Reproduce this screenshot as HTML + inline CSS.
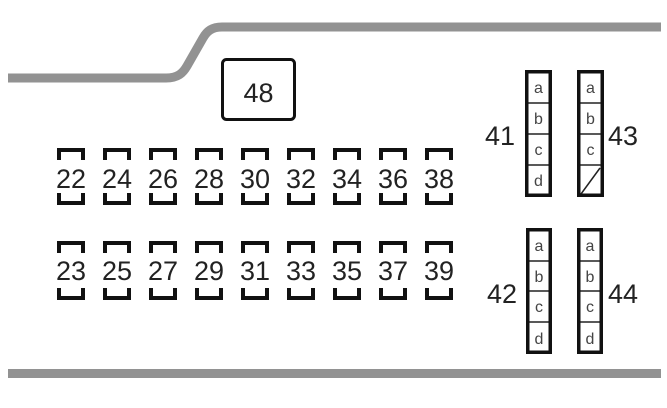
<!DOCTYPE html>
<html>
<head>
<meta charset="utf-8">
<style>
  html, body { margin: 0; padding: 0; background: #ffffff; }
  svg { display: block; }
  text { font-family: "Liberation Sans", Arial, sans-serif; }
</style>
</head>
<body>
<svg width="667" height="408" viewBox="0 0 667 408" xmlns="http://www.w3.org/2000/svg">
  <!-- housing outline -->
  <path d="M8,78 H166 C178,78 183,73 187,66 L203,38 C207,31 212,27 222,27 H661" fill="none" stroke="#929292" stroke-width="9"/>
  <rect x="8" y="369" width="653" height="9" fill="#929292"/>

  <!-- fuse 48 -->
  <rect x="222.5" y="59.5" width="72" height="60" rx="4" fill="none" stroke="#111" stroke-width="3"/>
  <text x="258.5" y="102" font-size="27" text-anchor="middle" fill="#222">48</text>

  <!-- small fuse brackets -->
  <g fill="none" stroke="#111" stroke-width="4" stroke-linecap="butt" stroke-linejoin="miter">
    <path id="b0" d="M59,160 V150 H83 V160 M59,193 V203 H83 V193 M59,253 V243 H83 V253 M59,288 V298 H83 V288"/>
    <use href="#b0" x="46"/>
    <use href="#b0" x="92"/>
    <use href="#b0" x="138"/>
    <use href="#b0" x="184"/>
    <use href="#b0" x="230"/>
    <use href="#b0" x="276"/>
    <use href="#b0" x="322"/>
    <use href="#b0" x="368"/>
  </g>

  <g font-size="27" text-anchor="middle" fill="#222">
    <text x="71" y="188">22</text>
    <text x="117" y="188">24</text>
    <text x="163" y="188">26</text>
    <text x="209" y="188">28</text>
    <text x="255" y="188">30</text>
    <text x="301" y="188">32</text>
    <text x="347" y="188">34</text>
    <text x="393" y="188">36</text>
    <text x="439" y="188">38</text>
    <text x="71" y="280">23</text>
    <text x="117" y="280">25</text>
    <text x="163" y="280">27</text>
    <text x="209" y="280">29</text>
    <text x="255" y="280">31</text>
    <text x="301" y="280">33</text>
    <text x="347" y="280">35</text>
    <text x="393" y="280">37</text>
    <text x="439" y="280">39</text>
  </g>

  <!-- relay blocks -->
  <g fill="none" stroke="#222" stroke-width="1.5">
    <!-- 41 -->
    <line x1="527" y1="103" x2="550" y2="103"/>
    <line x1="527" y1="134" x2="550" y2="134"/>
    <line x1="527" y1="165" x2="550" y2="165"/>
    <!-- 43 -->
    <line x1="579" y1="103" x2="602" y2="103"/>
    <line x1="579" y1="134" x2="602" y2="134"/>
    <line x1="579" y1="165" x2="602" y2="165"/>
    <line x1="581" y1="194" x2="600" y2="168"/>
    <!-- 42 -->
    <line x1="528" y1="261" x2="550" y2="261"/>
    <line x1="528" y1="291" x2="550" y2="291"/>
    <line x1="528" y1="322" x2="550" y2="322"/>
    <!-- 44 -->
    <line x1="579" y1="261" x2="601" y2="261"/>
    <line x1="579" y1="291" x2="601" y2="291"/>
    <line x1="579" y1="322" x2="601" y2="322"/>
  </g>
  <g fill="none" stroke="#111" stroke-width="3.5">
    <rect x="526.75" y="71.75" width="23.5" height="123.5"/>
    <rect x="578.75" y="71.75" width="23.5" height="123.5"/>
    <rect x="527.75" y="229.75" width="22.5" height="122.5"/>
    <rect x="578.75" y="229.75" width="22.5" height="122.5"/>
  </g>

  <g font-size="16" text-anchor="middle" fill="#444">
    <text x="538.5" y="93">a</text>
    <text x="538.5" y="124">b</text>
    <text x="538.5" y="155">c</text>
    <text x="538.5" y="186">d</text>
    <text x="590.5" y="93">a</text>
    <text x="590.5" y="124">b</text>
    <text x="590.5" y="155">c</text>
    <text x="539" y="251">a</text>
    <text x="539" y="282">b</text>
    <text x="539" y="312">c</text>
    <text x="539" y="344">d</text>
    <text x="590" y="251">a</text>
    <text x="590" y="282">b</text>
    <text x="590" y="312">c</text>
    <text x="590" y="344">d</text>
  </g>

  <g font-size="27" fill="#222">
    <text x="515" y="145" text-anchor="end">41</text>
    <text x="608" y="145">43</text>
    <text x="517" y="303" text-anchor="end">42</text>
    <text x="608" y="303">44</text>
  </g>
</svg>
</body>
</html>
